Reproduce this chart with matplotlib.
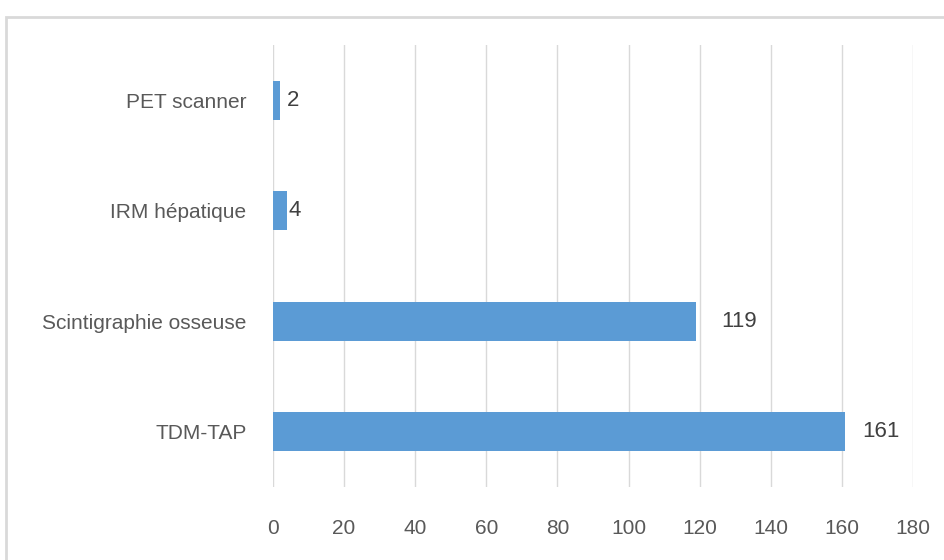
import matplotlib
matplotlib.use("Agg")
import matplotlib.pyplot as plt
from matplotlib.patches import Rectangle

plt.rcParams['font.family'] = ['Liberation Sans', 'DejaVu Sans']

# exam counts, bottom to top
categories = ['TDM-TAP', 'Scintigraphie osseuse', 'IRM hépatique', 'PET scanner']
counts = [161, 119, 4, 2]
label_offsets = [12, 18, 1, 5]  # points to the right of each bar end
xticks = [0, 20, 40, 60, 80, 100, 120, 140, 160, 180]

fig = plt.figure(figsize=(9.45, 5.6), dpi=100)
ax = fig.add_axes([0.2889, 0.1304, 0.6772, 0.7892])

# light outer frame of the chart area
fig.patches.append(Rectangle((0.006, -0.05), 1.1, 1.02, transform=fig.transFigure,
                             fill=False, edgecolor='#d9d9d9', linewidth=2))

ypos = range(len(categories))
ax.barh(ypos, counts, height=0.355, color='#5b9bd5', zorder=3)

for y, v, off in zip(ypos, counts, label_offsets):
    ax.annotate(str(v), (v, y), xytext=(off, 0), textcoords='offset points',
                ha='left', va='center', fontsize=16, color='#404040')

ax.set_xlim(0, 180)
ax.set_ylim(-0.5, len(categories) - 0.5)
ax.set_xticks(xticks)
ax.set_yticks(list(ypos))
ax.set_yticklabels(categories)
ax.grid(axis='x', color='#d9d9d9', linewidth=1, zorder=0)
for s in ax.spines.values():
    s.set_visible(False)
ax.tick_params(axis='both', length=0, labelsize=15, colors='#595959')
ax.tick_params(axis='x', pad=23)
ax.tick_params(axis='y', pad=19)

fig.savefig('out.png', dpi=100)
